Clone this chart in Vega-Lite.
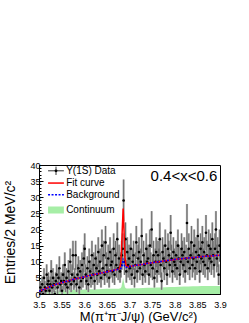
{
  "$schema": "https://vega.github.io/schema/vega-lite/v6.json",
  "width": 181,
  "height": 129,
  "autosize": {"type": "none"},
  "padding": {"left": 39, "top": 165, "right": 29, "bottom": 29},
  "background": "white",
  "config": {
    "font": "Liberation Sans",
    "view": {"stroke": "black", "strokeWidth": 1},
    "axis": {"domainColor": "black", "tickColor": "black", "labelColor": "black", "titleColor": "black", "labelFont": "Liberation Sans", "titleFont": "Liberation Sans", "titleFontWeight": "normal", "labelFontSize": 9, "grid": false}
  },
  "datasets": {
    "pts": [
      {"m":3.501,"n":0,"e":1.0},{"m":3.503,"n":2,"e":2.0},{"m":3.505,"n":1,"e":1.5},{"m":3.507,"n":3,"e":2.4},{"m":3.509,"n":0,"e":1.0},
      {"m":3.511,"n":5,"e":3.0},{"m":3.513,"n":2,"e":2.0},{"m":3.515,"n":1,"e":1.5},{"m":3.517,"n":6,"e":3.2},{"m":3.519,"n":3,"e":2.4},
      {"m":3.521,"n":4,"e":2.7},{"m":3.523,"n":1,"e":1.5},{"m":3.525,"n":3,"e":2.4},{"m":3.527,"n":7,"e":3.5},{"m":3.529,"n":2,"e":2.0},
      {"m":3.531,"n":5,"e":3.0},{"m":3.533,"n":3,"e":2.4},{"m":3.535,"n":0,"e":1.0},{"m":3.537,"n":4,"e":2.7},{"m":3.539,"n":6,"e":3.2},
      {"m":3.541,"n":2,"e":2.0},{"m":3.543,"n":5,"e":3.0},{"m":3.545,"n":8,"e":3.7},{"m":3.547,"n":3,"e":2.4},{"m":3.549,"n":4,"e":2.7},
      {"m":3.551,"n":1,"e":1.5},{"m":3.553,"n":6,"e":3.2},{"m":3.555,"n":4,"e":2.7},{"m":3.557,"n":9,"e":3.9},{"m":3.559,"n":3,"e":2.4},
      {"m":3.561,"n":5,"e":3.0},{"m":3.563,"n":2,"e":2.0},{"m":3.565,"n":7,"e":3.5},{"m":3.567,"n":4,"e":2.7},{"m":3.569,"n":10,"e":4.1},
      {"m":3.571,"n":3,"e":2.4},{"m":3.573,"n":6,"e":3.2},{"m":3.575,"n":12,"e":4.5},{"m":3.577,"n":4,"e":2.7},{"m":3.579,"n":5,"e":3.0},
      {"m":3.581,"n":12,"e":4.5},{"m":3.583,"n":3,"e":2.4},{"m":3.585,"n":6,"e":3.2},{"m":3.587,"n":8,"e":3.7},{"m":3.589,"n":2,"e":2.0},
      {"m":3.591,"n":7,"e":3.5},{"m":3.593,"n":4,"e":2.7},{"m":3.595,"n":9,"e":3.9},{"m":3.597,"n":5,"e":3.0},{"m":3.599,"n":11,"e":4.3},
      {"m":3.601,"n":14,"e":4.8},{"m":3.603,"n":6,"e":3.2},{"m":3.605,"n":4,"e":2.7},{"m":3.607,"n":8,"e":3.7},{"m":3.609,"n":3,"e":2.4},
      {"m":3.611,"n":10,"e":4.1},{"m":3.613,"n":7,"e":3.5},{"m":3.615,"n":5,"e":3.0},{"m":3.617,"n":12,"e":4.5},{"m":3.619,"n":6,"e":3.2},
      {"m":3.621,"n":9,"e":3.9},{"m":3.623,"n":4,"e":2.7},{"m":3.625,"n":11,"e":4.3},{"m":3.627,"n":8,"e":3.7},{"m":3.629,"n":6,"e":3.2},
      {"m":3.631,"n":13,"e":4.6},{"m":3.633,"n":7,"e":3.5},{"m":3.635,"n":10,"e":4.1},{"m":3.637,"n":5,"e":3.0},{"m":3.639,"n":15,"e":5.0},
      {"m":3.641,"n":8,"e":3.7},{"m":3.643,"n":12,"e":4.5},{"m":3.645,"n":6,"e":3.2},{"m":3.647,"n":16,"e":5.1},{"m":3.649,"n":9,"e":3.9},
      {"m":3.651,"n":7,"e":3.5},{"m":3.653,"n":11,"e":4.3},{"m":3.655,"n":5,"e":3.0},{"m":3.657,"n":13,"e":4.6},{"m":3.659,"n":9,"e":3.9},
      {"m":3.661,"n":10,"e":4.1},{"m":3.663,"n":7,"e":3.5},{"m":3.665,"n":14,"e":4.8},{"m":3.667,"n":6,"e":3.2},{"m":3.669,"n":12,"e":4.5},
      {"m":3.671,"n":9,"e":3.9},{"m":3.673,"n":17,"e":5.2},{"m":3.675,"n":8,"e":3.7},{"m":3.677,"n":11,"e":4.3},{"m":3.679,"n":7,"e":3.5},
      {"m":3.681,"n":9,"e":3.9},{"m":3.683,"n":12,"e":4.5},{"m":3.685,"n":14,"e":4.8},{"m":3.687,"n":29,"e":6.5},{"m":3.689,"n":10,"e":4.1},
      {"m":3.691,"n":17,"e":5.2},{"m":3.693,"n":7,"e":3.5},{"m":3.695,"n":13,"e":4.6},{"m":3.697,"n":9,"e":3.9},{"m":3.699,"n":11,"e":4.3},
      {"m":3.701,"n":8,"e":3.7},{"m":3.703,"n":14,"e":4.8},{"m":3.705,"n":6,"e":3.2},{"m":3.707,"n":10,"e":4.1},{"m":3.709,"n":12,"e":4.5},
      {"m":3.711,"n":5,"e":3.0},{"m":3.713,"n":9,"e":3.9},{"m":3.715,"n":16,"e":5.1},{"m":3.717,"n":7,"e":3.5},{"m":3.719,"n":11,"e":4.3},
      {"m":3.721,"n":13,"e":4.6},{"m":3.723,"n":8,"e":3.7},{"m":3.725,"n":10,"e":4.1},{"m":3.727,"n":18,"e":5.4},{"m":3.729,"n":6,"e":3.2},
      {"m":3.731,"n":12,"e":4.5},{"m":3.733,"n":9,"e":3.9},{"m":3.735,"n":7,"e":3.5},{"m":3.737,"n":14,"e":4.8},{"m":3.739,"n":10,"e":4.1},
      {"m":3.741,"n":11,"e":4.3},{"m":3.743,"n":6,"e":3.2},{"m":3.745,"n":15,"e":5.0},{"m":3.747,"n":9,"e":3.9},{"m":3.749,"n":20,"e":5.7},
      {"m":3.751,"n":8,"e":3.7},{"m":3.753,"n":12,"e":4.5},{"m":3.755,"n":5,"e":3.0},{"m":3.757,"n":10,"e":4.1},{"m":3.759,"n":13,"e":4.6},
      {"m":3.761,"n":7,"e":3.5},{"m":3.763,"n":12,"e":4.5},{"m":3.765,"n":10,"e":4.1},{"m":3.767,"n":17,"e":5.2},{"m":3.769,"n":9,"e":3.9},
      {"m":3.771,"n":4,"e":2.7},{"m":3.773,"n":13,"e":4.6},{"m":3.775,"n":11,"e":4.3},{"m":3.777,"n":8,"e":3.7},{"m":3.779,"n":15,"e":5.0},
      {"m":3.781,"n":10,"e":4.1},{"m":3.783,"n":6,"e":3.2},{"m":3.785,"n":14,"e":4.8},{"m":3.787,"n":12,"e":4.5},{"m":3.789,"n":9,"e":3.9},
      {"m":3.791,"n":19,"e":5.5},{"m":3.793,"n":11,"e":4.3},{"m":3.795,"n":7,"e":3.5},{"m":3.797,"n":13,"e":4.6},{"m":3.799,"n":10,"e":4.1},
      {"m":3.801,"n":9,"e":3.9},{"m":3.803,"n":12,"e":4.5},{"m":3.805,"n":8,"e":3.7},{"m":3.807,"n":15,"e":5.0},{"m":3.809,"n":11,"e":4.3},
      {"m":3.811,"n":6,"e":3.2},{"m":3.813,"n":10,"e":4.1},{"m":3.815,"n":14,"e":4.8},{"m":3.817,"n":12,"e":4.5},{"m":3.819,"n":9,"e":3.9},
      {"m":3.821,"n":13,"e":4.6},{"m":3.823,"n":7,"e":3.5},{"m":3.825,"n":11,"e":4.3},{"m":3.827,"n":22,"e":5.9},{"m":3.829,"n":10,"e":4.1},
      {"m":3.831,"n":14,"e":4.8},{"m":3.833,"n":8,"e":3.7},{"m":3.835,"n":12,"e":4.5},{"m":3.837,"n":16,"e":5.1},{"m":3.839,"n":9,"e":3.9},
      {"m":3.841,"n":11,"e":4.3},{"m":3.843,"n":15,"e":5.0},{"m":3.845,"n":8,"e":3.7},{"m":3.847,"n":13,"e":4.6},{"m":3.849,"n":10,"e":4.1},
      {"m":3.851,"n":18,"e":5.4},{"m":3.853,"n":12,"e":4.5},{"m":3.855,"n":7,"e":3.5},{"m":3.857,"n":14,"e":4.8},{"m":3.859,"n":11,"e":4.3},
      {"m":3.861,"n":16,"e":5.1},{"m":3.863,"n":10,"e":4.1},{"m":3.865,"n":13,"e":4.6},{"m":3.867,"n":9,"e":3.9},{"m":3.869,"n":19,"e":5.5},
      {"m":3.871,"n":12,"e":4.5},{"m":3.873,"n":8,"e":3.7},{"m":3.875,"n":15,"e":5.0},{"m":3.877,"n":11,"e":4.3},{"m":3.879,"n":14,"e":4.8},
      {"m":3.881,"n":10,"e":4.1},{"m":3.883,"n":17,"e":5.2},{"m":3.885,"n":12,"e":4.5},{"m":3.887,"n":9,"e":3.9},{"m":3.889,"n":14,"e":4.8},
      {"m":3.891,"n":20,"e":5.7},{"m":3.893,"n":11,"e":4.3},{"m":3.895,"n":13,"e":4.6},{"m":3.897,"n":6,"e":3.2},{"m":3.899,"n":15,"e":5.0}
    ],
    "curves": [
      {"m":3.50,"fit":0.9,"bkg":0.9,"cont":0.9},{"m":3.51,"fit":1.4,"bkg":1.4,"cont":0.95},{"m":3.52,"fit":2.0,"bkg":2.0,"cont":1.0},
      {"m":3.53,"fit":2.6,"bkg":2.6,"cont":1.05},{"m":3.54,"fit":3.1,"bkg":3.1,"cont":1.1},{"m":3.55,"fit":3.5,"bkg":3.5,"cont":1.15},
      {"m":3.56,"fit":3.9,"bkg":3.9,"cont":1.2},{"m":3.57,"fit":4.3,"bkg":4.3,"cont":1.25},{"m":3.58,"fit":4.7,"bkg":4.7,"cont":1.3},
      {"m":3.59,"fit":5.0,"bkg":5.0,"cont":1.35},{"m":3.60,"fit":5.3,"bkg":5.3,"cont":1.4},{"m":3.61,"fit":5.7,"bkg":5.7,"cont":1.45},
      {"m":3.62,"fit":6.0,"bkg":6.0,"cont":1.5},{"m":3.63,"fit":6.3,"bkg":6.3,"cont":1.5},{"m":3.64,"fit":6.6,"bkg":6.6,"cont":1.55},
      {"m":3.65,"fit":6.9,"bkg":6.9,"cont":1.6},{"m":3.66,"fit":7.2,"bkg":7.2,"cont":1.6},{"m":3.67,"fit":7.5,"bkg":7.5,"cont":1.65},
      {"m":3.676,"fit":7.7,"bkg":7.7,"cont":1.65},{"m":3.678,"fit":7.9,"bkg":7.8,"cont":1.7},{"m":3.680,"fit":9.0,"bkg":7.9,"cont":1.8},
      {"m":3.682,"fit":12.5,"bkg":8.1,"cont":2.2},{"m":3.684,"fit":20.0,"bkg":8.8,"cont":3.5},{"m":3.686,"fit":26.5,"bkg":11.0,"cont":5.0},
      {"m":3.688,"fit":19.0,"bkg":9.2,"cont":3.4},{"m":3.690,"fit":11.5,"bkg":8.3,"cont":2.1},{"m":3.692,"fit":9.0,"bkg":8.2,"cont":1.8},
      {"m":3.694,"fit":8.5,"bkg":8.3,"cont":1.7},{"m":3.70,"fit":8.5,"bkg":8.5,"cont":1.7},{"m":3.71,"fit":8.8,"bkg":8.8,"cont":1.75},
      {"m":3.72,"fit":9.0,"bkg":9.0,"cont":1.8},{"m":3.73,"fit":9.2,"bkg":9.2,"cont":1.85},{"m":3.74,"fit":9.5,"bkg":9.5,"cont":1.9},
      {"m":3.75,"fit":9.7,"bkg":9.7,"cont":1.95},{"m":3.76,"fit":9.9,"bkg":9.9,"cont":2.0},{"m":3.77,"fit":10.1,"bkg":10.1,"cont":2.05},
      {"m":3.78,"fit":10.3,"bkg":10.3,"cont":2.1},{"m":3.79,"fit":10.5,"bkg":10.5,"cont":2.15},{"m":3.80,"fit":10.7,"bkg":10.7,"cont":2.2},
      {"m":3.81,"fit":10.9,"bkg":10.9,"cont":2.25},{"m":3.82,"fit":11.0,"bkg":11.0,"cont":2.3},{"m":3.83,"fit":11.2,"bkg":11.2,"cont":2.35},
      {"m":3.84,"fit":11.3,"bkg":11.3,"cont":2.4},{"m":3.85,"fit":11.4,"bkg":11.4,"cont":2.42},{"m":3.86,"fit":11.6,"bkg":11.6,"cont":2.45},
      {"m":3.87,"fit":11.7,"bkg":11.7,"cont":2.47},{"m":3.88,"fit":11.8,"bkg":11.8,"cont":2.5},{"m":3.89,"fit":11.9,"bkg":11.9,"cont":2.5},
      {"m":3.90,"fit":12.0,"bkg":12.0,"cont":2.5}
    ],
    "leg": [
      {"k":"data","v":38.2,"t":"Υ(1S) Data"},
      {"k":"fit","v":34.4,"t":"Fit curve"},
      {"k":"bkg","v":30.8,"t":"Background"},
      {"k":"cont","v":26.1,"t":"Continuum"}
    ]
  },
  "encoding": {
    "x": {"type": "quantitative",
      "scale": {"domain": [3.5, 3.9], "nice": false, "zero": false},
      "axis": {
        "values": [3.5,3.51,3.52,3.53,3.54,3.55,3.56,3.57,3.58,3.59,3.6,3.61,3.62,3.63,3.64,3.65,3.66,3.67,3.68,3.69,3.7,3.71,3.72,3.73,3.74,3.75,3.76,3.77,3.78,3.79,3.8,3.81,3.82,3.83,3.84,3.85,3.86,3.87,3.88,3.89,3.9],
        "labelExpr": "abs(round(datum.value*100)%5)==0 ? format(datum.value,'.2~f') : ''",
        "tickSize": {"condition": {"test": "abs(round(datum.value*100)%5)==0", "value": -4}, "value": -2},
        "labelPadding": 10,
        "labelOverlap": false,
        "labelFlush": false,
        "title": "M(π⁺π⁻J/ψ) (GeV/c²)",
        "titleFontSize": 13,
        "titleX": 99,
        "titleY": 26,
        "titleAlign": "center",
        "titleBaseline": "alphabetic"
      }
    },
    "y": {"type": "quantitative",
      "scale": {"domain": [0, 40], "nice": false},
      "axis": {
        "values": [0,1,2,3,4,5,6,7,8,9,10,11,12,13,14,15,16,17,18,19,20,21,22,23,24,25,26,27,28,29,30,31,32,33,34,35,36,37,38,39,40],
        "labelExpr": "datum.value%5==0 ? datum.label : ''",
        "tickSize": {"condition": {"test": "datum.value%5==0", "value": -4}, "value": -2},
        "labelPadding": 3,
        "labelOverlap": false,
        "labelFlush": false,
        "title": "Entries/2 MeV/c²",
        "titleFontSize": 14,
        "titleAngle": 270,
        "titleX": -29,
        "titleY": 67,
        "titleAlign": "center",
        "titleBaseline": "middle"
      }
    }
  },
  "layer": [
    {"data": {"name": "curves"}, "mark": {"type": "area", "color": "#a6eea6", "opacity": 1, "clip": true},
     "encoding": {"x": {"field": "m"}, "y": {"field": "cont"}}},
    {"data": {"name": "pts"}, "mark": {"type": "errorbar", "ticks": false, "color": "#b0b0b0", "thickness": 2.2, "clip": true},
     "encoding": {"x": {"field": "m"}, "y": {"field": "n"}, "yError": {"field": "e"}}},
    {"data": {"name": "pts"}, "mark": {"type": "errorbar", "ticks": false, "color": "#2a2a2a", "thickness": 0.5, "clip": true},
     "encoding": {"x": {"field": "m"}, "y": {"field": "n"}, "yError": {"field": "e"}}},
    {"data": {"name": "pts"}, "mark": {"type": "point", "filled": true, "color": "black", "size": 7, "opacity": 1, "clip": true},
     "encoding": {"x": {"field": "m"}, "y": {"field": "n"}}},
    {"data": {"name": "curves"}, "mark": {"type": "line", "color": "#ff0000", "strokeWidth": 1.5, "clip": true},
     "encoding": {"x": {"field": "m"}, "y": {"field": "fit"}}},
    {"data": {"name": "curves"}, "mark": {"type": "line", "color": "#0000ff", "strokeWidth": 1.5, "strokeDash": [2, 1.5], "clip": true},
     "encoding": {"x": {"field": "m"}, "y": {"field": "bkg"}}},
    {"data": {"name": "leg"}, "transform": [{"filter": "datum.k=='data'"}], "mark": {"type": "rule", "color": "black", "strokeWidth": 0.8},
     "encoding": {"x": {"datum": 3.52}, "x2": {"datum": 3.555}, "y": {"field": "v"}}},
    {"data": {"name": "leg"}, "transform": [{"filter": "datum.k=='data'"}], "mark": {"type": "rule", "color": "black", "strokeWidth": 0.8},
     "encoding": {"x": {"datum": 3.5376}, "y": {"datum": 36.9}, "y2": {"datum": 39.5}}},
    {"data": {"name": "leg"}, "transform": [{"filter": "datum.k=='data'"}], "mark": {"type": "point", "filled": true, "color": "black", "size": 8, "opacity": 1},
     "encoding": {"x": {"datum": 3.5376}, "y": {"field": "v"}}},
    {"data": {"name": "leg"}, "transform": [{"filter": "datum.k=='fit'"}], "mark": {"type": "rule", "color": "#ff0000", "strokeWidth": 1.5},
     "encoding": {"x": {"datum": 3.52}, "x2": {"datum": 3.555}, "y": {"field": "v"}}},
    {"data": {"name": "leg"}, "transform": [{"filter": "datum.k=='bkg'"}], "mark": {"type": "rule", "color": "#0000ff", "strokeWidth": 1.5, "strokeDash": [2, 1.5]},
     "encoding": {"x": {"datum": 3.52}, "x2": {"datum": 3.555}, "y": {"field": "v"}}},
    {"data": {"name": "leg"}, "transform": [{"filter": "datum.k=='cont'"}], "mark": {"type": "rect", "color": "#a6eea6"},
     "encoding": {"x": {"datum": 3.52}, "x2": {"datum": 3.555}, "y": {"datum": 25.0}, "y2": {"datum": 27.1}}},
    {"data": {"name": "leg"}, "mark": {"type": "text", "align": "left", "baseline": "middle", "fontSize": 10, "color": "black"},
     "encoding": {"x": {"datum": 3.56}, "y": {"field": "v"}, "text": {"field": "t", "type": "nominal"}}},
    {"data": {"values": [{"m": 3.894, "v": 36.6, "t": "0.4<x<0.6"}]}, "mark": {"type": "text", "align": "right", "baseline": "middle", "fontSize": 15, "color": "black"},
     "encoding": {"x": {"field": "m"}, "y": {"field": "v"}, "text": {"field": "t", "type": "nominal"}}}
  ]
}
